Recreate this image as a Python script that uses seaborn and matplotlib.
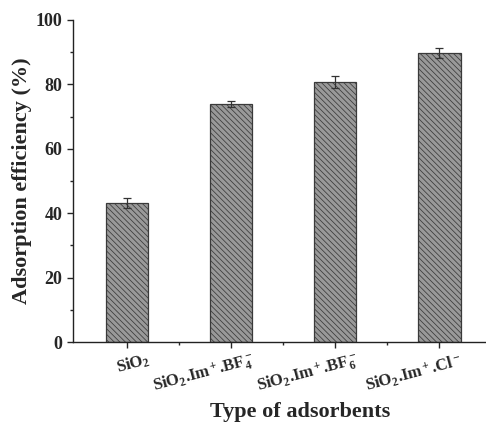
import numpy as np
import pandas as pd
import matplotlib
matplotlib.use("Agg")
import matplotlib.pyplot as plt
import matplotlib.transforms as mtransforms
from matplotlib.ticker import MultipleLocator
import seaborn as sns

# data
labels = ["SiO$_2$", "SiO$_2$.Im$^+$.BF$_4^-$", "SiO$_2$.Im$^+$.BF$_6^-$", "SiO$_2$.Im$^+$.Cl$^-$"]
efficiency = [43.2, 73.9, 80.7, 89.8]
errors = [1.5, 0.9, 1.8, 1.5]

sns.set_style("ticks")
plt.rcParams["font.family"] = ["Liberation Serif", "DejaVu Serif"]
plt.rcParams["font.weight"] = "bold"
plt.rcParams["mathtext.fontset"] = "custom"
plt.rcParams["mathtext.rm"] = "Liberation Serif:bold"
plt.rcParams["mathtext.it"] = "Liberation Serif:bold"
plt.rcParams["mathtext.bf"] = "Liberation Serif:bold"
plt.rcParams["hatch.linewidth"] = 0.55
plt.rcParams["hatch.color"] = "#3c3c3c"

df = pd.DataFrame({"type": labels, "eff": efficiency})

fig = plt.figure(figsize=(4.86, 4.24), dpi=100)
ax = fig.add_axes([0.150, 0.193, 0.85, 0.760])

sns.barplot(data=df, x="type", y="eff", color="#999999", saturation=1,
            width=0.41, edgecolor="#3a3a3a", linewidth=0.9, ax=ax)
for p in ax.patches:
    p.set_hatch("\\" * 6)

ax.errorbar(np.arange(len(labels)), efficiency, yerr=errors, fmt="none",
            ecolor="#333333", elinewidth=0.9, capsize=3, capthick=0.9)

ax.set_ylim(0, 100)
ax.set_xlim(-0.52, 3.45)
ax.yaxis.set_major_locator(MultipleLocator(20))
ax.yaxis.set_minor_locator(MultipleLocator(10))
ax.set_xticks(np.arange(len(labels)))
ax.set_xticks(np.arange(len(labels) - 1) + 0.5, minor=True)
ax.tick_params(axis="both", which="major", direction="out", length=4, width=1, labelsize=13)
ax.tick_params(axis="both", which="minor", direction="out", length=2.5, width=1)
ax.tick_params(axis="x", which="major", pad=2)
ax.set_xticklabels(labels, rotation=15, fontsize=12, fontweight="bold",
                   ha="right", va="top", rotation_mode="anchor")
shift = mtransforms.ScaledTranslation(20 / 100, 0, fig.dpi_scale_trans)
for t in ax.get_xticklabels():
    t.set_transform(t.get_transform() + shift)
for t in ax.get_yticklabels():
    t.set_fontweight("bold")

for s in ["top", "right"]:
    ax.spines[s].set_visible(False)
for s in ["left", "bottom"]:
    ax.spines[s].set_linewidth(1)
    ax.spines[s].set_color("#222222")

ax.set_xlabel("Type of adsorbents", fontsize=16, fontweight="bold", va="center")
ax.xaxis.set_label_coords(0.55, -0.217)
ax.set_ylabel("Adsorption efficiency (%)", fontsize=16, fontweight="bold", labelpad=3)

fig.savefig("out.png", dpi=100)
